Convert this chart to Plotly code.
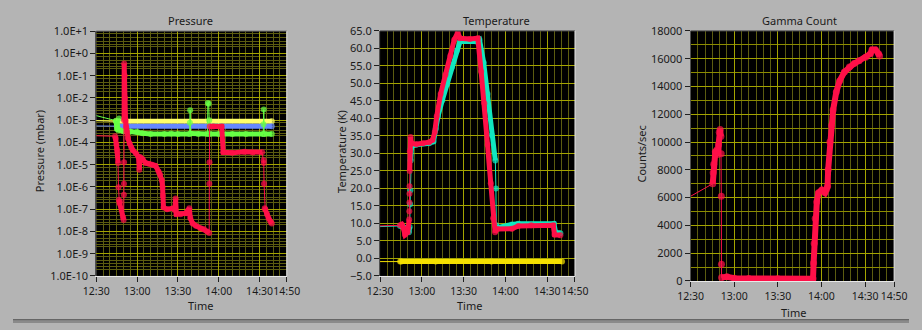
import plotly.graph_objects as go

# ---------------- DATA (minutes after 12:30) ----------------
TICK_MIN = [0, 30, 60, 90, 120, 140]
TICK_TXT = ["12:30", "13:00", "13:30", "14:00", "14:30", "14:50"]

# Pressure (mbar)
P_YEL_T = [0, 14.5, 129]
P_YEL_V = [9.5e-4, 8.9e-4, 8.9e-4]
P_YEL_THIN = [0]

P_BLU_T = [0, 15.0, 129]
P_BLU_V = [5.5e-4, 5.4e-4, 5.4e-4]
P_BLU_THIN = [0]

P_GRN_T = [0, 14.5, 15.2, 16.3, 16.8, 17.1, 20, 25, 30, 34, 40, 50, 55, 60, 68.5, 68.8, 69.0, 69.3,
           75, 81.8, 82.0, 82.6, 83.0, 83.3, 90, 100, 110, 122.7, 122.9, 123.1, 123.4, 129]
P_GRN_V = [1.6e-3, 9.5e-4, 4.0e-4, 3.6e-4, 1.2e-3, 3.6e-4, 3.2e-4, 3.1e-4, 3.0e-4, 2.6e-4, 2.4e-4,
           2.4e-4, 2.5e-4, 2.4e-4, 2.4e-4, 7.6e-4, 2.8e-3, 2.5e-4, 2.4e-4, 2.4e-4, 5.9e-3, 5.5e-3,
           1.0e-3, 2.4e-4, 2.4e-4, 2.4e-4, 2.4e-4, 2.4e-4, 6.5e-4, 3.0e-3, 2.4e-4, 2.4e-4]
P_GRN_THIN = [0, 16.3, 16.8, 68.5, 68.8, 69.0, 81.8, 82.6, 83.0, 122.7, 122.9, 123.1]

P_RED_T = [0, 13.8, 14.3, 14.8, 15.2, 15.6, 16.0, 16.3, 16.6, 17.0, 17.5, 19.7, 20.1, 20.3, 20.35,
           20.4, 20.45, 20.5, 20.9, 21.1, 21.5, 22.0, 22.6, 23.3, 24.5, 25.7, 26.8, 29.2, 31.0, 31.6,
           32.2, 34.0, 36.3, 38.7, 41.1, 43.5, 45.8, 47.0, 48.2, 48.7, 48.9, 49.4, 52, 56.5, 57.7,
           58.3, 58.9, 62, 66.0, 67.2, 68.4, 69.1, 70.8, 73.2, 76.7, 79.1, 81.5, 83.0, 83.1, 83.2,
           83.3, 86, 92.2, 93.3, 100, 108.8, 115, 121.9, 123.0, 123.1, 123.3, 123.8, 124.2, 125.5,
           126.6, 128, 129.0]
P_RED_V = [2.0e-4, 1.9e-4, 1.5e-4, 8e-5, 5e-5, 3.5e-5, 1.2e-5, 9.8e-7, 2.6e-7, 1.9e-7, 2.2e-7,
           4.4e-8, 3.3e-8, 4.5e-7, 1.4e-6, 1.3e-5, 1e-3, 3.5e-1, 1e-1, 1e-2, 1e-3, 5e-4, 3e-4,
           1.5e-4, 9e-5, 6e-5, 4.5e-5, 3.2e-5, 2.3e-5, 6e-6, 2.2e-5, 1.8e-5, 1.2e-5, 1.1e-5, 1.0e-5,
           9e-6, 5e-6, 3.5e-6, 2e-6, 1e-6, 4e-7, 1.2e-7, 1.0e-7, 1.1e-7, 9e-8, 3e-7, 6e-8, 6e-8,
           6.5e-8, 8.5e-8, 1.1e-7, 4e-8, 2.3e-8, 1.8e-8, 1.4e-8, 1.3e-8, 1.0e-8, 8.5e-9, 1.4e-6,
           1.3e-5, 5.2e-4, 5.2e-4, 5.2e-4, 3.6e-5, 3.4e-5, 3.8e-5, 3.5e-5, 3.6e-5, 1.6e-5, 1.2e-5,
           1.4e-6, 1.1e-7, 1e-7, 6e-8, 4e-8, 2.8e-8, 2.3e-8]
P_RED_THIN = [0, 16.0, 16.3, 20.1, 20.3, 20.35, 20.4, 83.0, 83.1, 83.2, 121.9, 123.0, 123.1, 123.3]

P_TICKS = [10.0 ** k for k in range(-10, 2)]
P_TICK_TXT = ["1.0E-10", "1.0E-9", "1.0E-8", "1.0E-7", "1.0E-6", "1.0E-5", "1.0E-4",
              "1.0E-3", "1.0E-2", "1.0E-1", "1.0E+0", "1.0E+1"]

# Temperature (K)
T_YEL_T = [0, 14.4, 15.2, 40, 80, 130.7]
T_YEL_V = [-0.9, -0.9, -0.9, -0.9, -0.9, -0.9]
T_YEL_THIN = [0]

T_CYN_T = [0, 14.4, 15.6, 17.9, 19.8, 20.7, 21.3, 21.6, 21.8, 22.0, 22.1, 22.6, 26, 35.3, 38.4,
           40.0, 41.6, 44.7, 48.1, 51.6, 55.1, 57.4, 69.0, 71.4, 74.4, 77.2, 80.2, 82.8, 83.2,
           83.5, 84.2, 94.7, 99.3, 124.9, 126.0, 129.5]
T_CYN_V = [9.1, 9.3, 9.3, 8.8, 8.4, 7.5, 9.0, 15.5, 19.5, 28.0, 31.5, 32.0, 32.5, 32.9, 33.4,
           37.0, 40.6, 45.2, 49.7, 54.7, 59.3, 62.0, 62.0, 62.5, 56.0, 47.0, 35.2, 28.0, 20.0,
           9.5, 8.8, 9.7, 9.9, 9.9, 7.5, 7.2]
T_CYN_THIN = [0, 21.3, 21.6, 21.8, 82.8, 83.2]

T_RED_T = [0, 14.4, 15.6, 16.7, 17.9, 19.8, 20.2, 20.9, 21.0, 21.1, 21.15, 21.2, 21.3, 21.4, 21.9,
           22.6, 26, 30.7, 35.3, 37.7, 39.3, 40.7, 43.5, 47, 50.5, 53.3, 55.8, 57.4, 64.4, 70.2,
           72.6, 74.9, 77.2, 79.5, 81.2, 82.6, 84.2, 94.7, 99.3, 108.6, 124.4, 125.3, 129.5]
T_RED_V = [9.3, 9.45, 9.7, 8.8, 6.8, 7.5, 8.8, 11.1, 13.5, 16.0, 18.5, 20.6, 25.0, 30.6, 34.7,
           32.9, 32.6, 32.9, 33.2, 33.8, 36.1, 40.6, 47.0, 52.5, 57.9, 62.5, 64.5, 62.9, 62.7,
           62.9, 53.4, 44.3, 32.5, 21.5, 11.5, 7.5, 8.4, 8.5, 9.3, 9.5, 9.5, 6.8, 6.6]
T_RED_THIN = [0, 20.9, 21.0, 21.1, 21.15, 21.2]

# Gamma count (counts/sec)
G_RED_T = [0, 15.2, 15.5, 15.9, 17.0, 18.1, 18.6, 19.2, 19.7, 20.3, 20.8, 21.0, 21.1, 21.2, 21.3,
           25, 30, 40, 60, 84.2, 84.6, 85.0, 85.7, 86.8, 87.9, 90.2, 92.4, 93.5, 94.2, 94.6, 95.8,
           96.9, 98.0, 100.2, 102.5, 105.8, 109.2, 112.5, 115.9, 120.4, 123.7, 124.8, 127.1,
           129.3, 130.0]
G_RED_V = [6100, 7000, 7800, 8400, 9300, 9450, 9100, 9800, 10700, 10900, 10400, 9150, 6100, 1200,
           250, 300, 200, 180, 170, 160, 1300, 2700, 4500, 5700, 6350, 6550, 6350, 6600, 6800,
           8000, 10000, 11200, 12300, 13600, 14400, 15050, 15400, 15650, 15850, 16100, 16350,
           16650, 16650, 16350, 16200]
G_RED_THIN = [0, 20.8, 21.0, 21.1, 21.2]

# ---------------- STYLE ----------------
W, H = 922, 330
BG = "#b4b4b4"
MAJ = "#a4a400"
MIN = "#5c5c10"
RED = "#ff1048"
FONT = "Noto Sans"
TXT = "#1a1a1a"


def dom_x(a, b):
    return [a / W, b / W]


def dom_y(top, bottom):
    return [1 - bottom / H, 1 - top / H]


fig = go.Figure()


def add_series(t, v, thin_from, color, xa, ya, width=5, msize=6):
    thin = set(thin_from)
    fig.add_trace(go.Scatter(x=t, y=v, mode="lines", line=dict(color=color, width=1),
                             xaxis=xa, yaxis=ya, hoverinfo="skip", showlegend=False))
    xs, ys, ss = [], [], []
    for i, (a, b) in enumerate(zip(t, v)):
        xs.append(a)
        ys.append(b)
        ss.append(0 if i == 0 else msize)
        if a in thin and i < len(t) - 1:
            xs.append(None)
            ys.append(None)
            ss.append(0)
    fig.add_trace(go.Scatter(x=xs, y=ys, mode="lines+markers", connectgaps=False,
                             line=dict(color=color, width=width),
                             marker=dict(size=ss, color=color, line=dict(width=0)),
                             xaxis=xa, yaxis=ya, hoverinfo="skip", showlegend=False))


add_series(P_YEL_T, P_YEL_V, P_YEL_THIN, "#ffff6a", "x", "y")
add_series(P_BLU_T, P_BLU_V, P_BLU_THIN, "#6688ff", "x", "y")
add_series(P_GRN_T, P_GRN_V, P_GRN_THIN, "#66ff44", "x", "y")
add_series(P_RED_T, P_RED_V, P_RED_THIN, RED, "x", "y")

add_series(T_YEL_T, T_YEL_V, T_YEL_THIN, "#f4e000", "x2", "y2")
add_series(T_CYN_T, T_CYN_V, T_CYN_THIN, "#10e8c0", "x2", "y2")
add_series(T_RED_T, T_RED_V, T_RED_THIN, RED, "x2", "y2")

add_series(G_RED_T, G_RED_V, G_RED_THIN, RED, "x3", "y3", width=6, msize=7)

tickfont = dict(family=FONT, size=11, color=TXT)
xtickfont = dict(family=FONT, size=10.5, color=TXT)


def xax(domain, anchor):
    return dict(domain=domain, anchor=anchor, range=[0, 140], tickmode="array",
                tickvals=TICK_MIN, ticktext=TICK_TXT, tickangle=0, ticks="outside", ticklen=5,
                tickcolor="#202020", showgrid=True, gridcolor=MAJ, gridwidth=1,
                minor=dict(tick0=0, dtick=5, showgrid=True, gridcolor=MIN, ticklen=0),
                zeroline=False, showline=True, linecolor="#e8e8e8", linewidth=1,
                tickfont=xtickfont, fixedrange=True)


p_minor = [m * 10.0 ** k for k in range(-10, 1) for m in (2, 2.6, 3.5, 5, 7.5)]

fig.update_layout(
    width=W, height=H, margin=dict(l=0, r=0, t=0, b=0),
    paper_bgcolor=BG, plot_bgcolor="black", showlegend=False,
    font=dict(family=FONT, size=11, color=TXT),
    xaxis=xax(dom_x(85.7, 281.7), "y"),
    xaxis2=xax(dom_x(377.7, 578.3), "y2"),
    xaxis3=xax(dom_x(697.3, 906.7), "y3"),
    yaxis=dict(domain=dom_y(24.3, 280.7), anchor="x", type="log", range=[-10, 1],
               tickmode="array", tickvals=P_TICKS, ticktext=P_TICK_TXT, ticks="outside",
               ticklen=5, tickcolor="#202020", showgrid=True, gridcolor=MAJ,
               minor=dict(tickmode="array", tickvals=p_minor, showgrid=True, gridcolor=MIN,
                          ticklen=0),
               zeroline=False, showline=True, linecolor="#505050", tickfont=tickfont),
    yaxis2=dict(domain=dom_y(24, 280.7), anchor="x2", range=[-5, 65], tick0=0, dtick=5,
                tickformat=".1f", ticks="outside", ticklen=5, tickcolor="#202020",
                showgrid=True, gridcolor=MAJ, zeroline=False, showline=True,
                linecolor="#505050", tickfont=tickfont),
    yaxis3=dict(domain=dom_y(24, 286), anchor="x3", range=[0, 18000], tick0=0, dtick=2000,
                tickformat="d", ticks="outside", ticklen=5, tickcolor="#202020",
                showgrid=True, gridcolor=MAJ,
                minor=dict(tick0=0, dtick=1000, showgrid=True, gridcolor="#8c8c00", ticklen=0),
                zeroline=False, showline=True, linecolor="#505050", tickfont=tickfont),
)

# frame lines (top dark, right light)
for xa, ya in (("x", "y"), ("x2", "y2"), ("x3", "y3")):
    fig.add_shape(type="line", xref=f"{xa} domain", yref=f"{ya} domain", x0=0, x1=1, y0=1, y1=1,
                  line=dict(color="#505050", width=1))
    fig.add_shape(type="line", xref=f"{xa} domain", yref=f"{ya} domain", x0=1, x1=1, y0=0, y1=1,
                  line=dict(color="#e8e8e8", width=1))

# bottom border band
fig.add_shape(type="rect", xref="paper", yref="paper", x0=0, x1=1, y0=0, y1=3.5 / H,
              fillcolor="#8a8a8a", line=dict(width=0), layer="above")
fig.add_shape(type="line", xref="paper", yref="paper", x0=0, x1=1, y0=3.5 / H, y1=3.5 / H,
              line=dict(color="#5a5a5a", width=1), layer="above")


def ann(text, x, y, size=11, angle=0):
    fig.add_annotation(text=text, x=x / W, y=1 - y / H, xref="paper", yref="paper",
                       showarrow=False, textangle=angle, xanchor="center", yanchor="middle",
                       font=dict(family=FONT, size=size, color=TXT))


ann("Pressure", 183, 13)
ann("Temperature", 497.7, 13)
ann("Gamma Count", 809, 13)
ann("Pressure (mbar)", 26.7, 150, angle=-90)
ann("Temperature (K)", 337.3, 150, angle=-90)
ann("Counts/sec", 646.7, 153, angle=-90)
ann("Time", 193, 312)
ann("Time", 470, 312)
ann("Time", 803, 319)

fig.write_html("out.html")
